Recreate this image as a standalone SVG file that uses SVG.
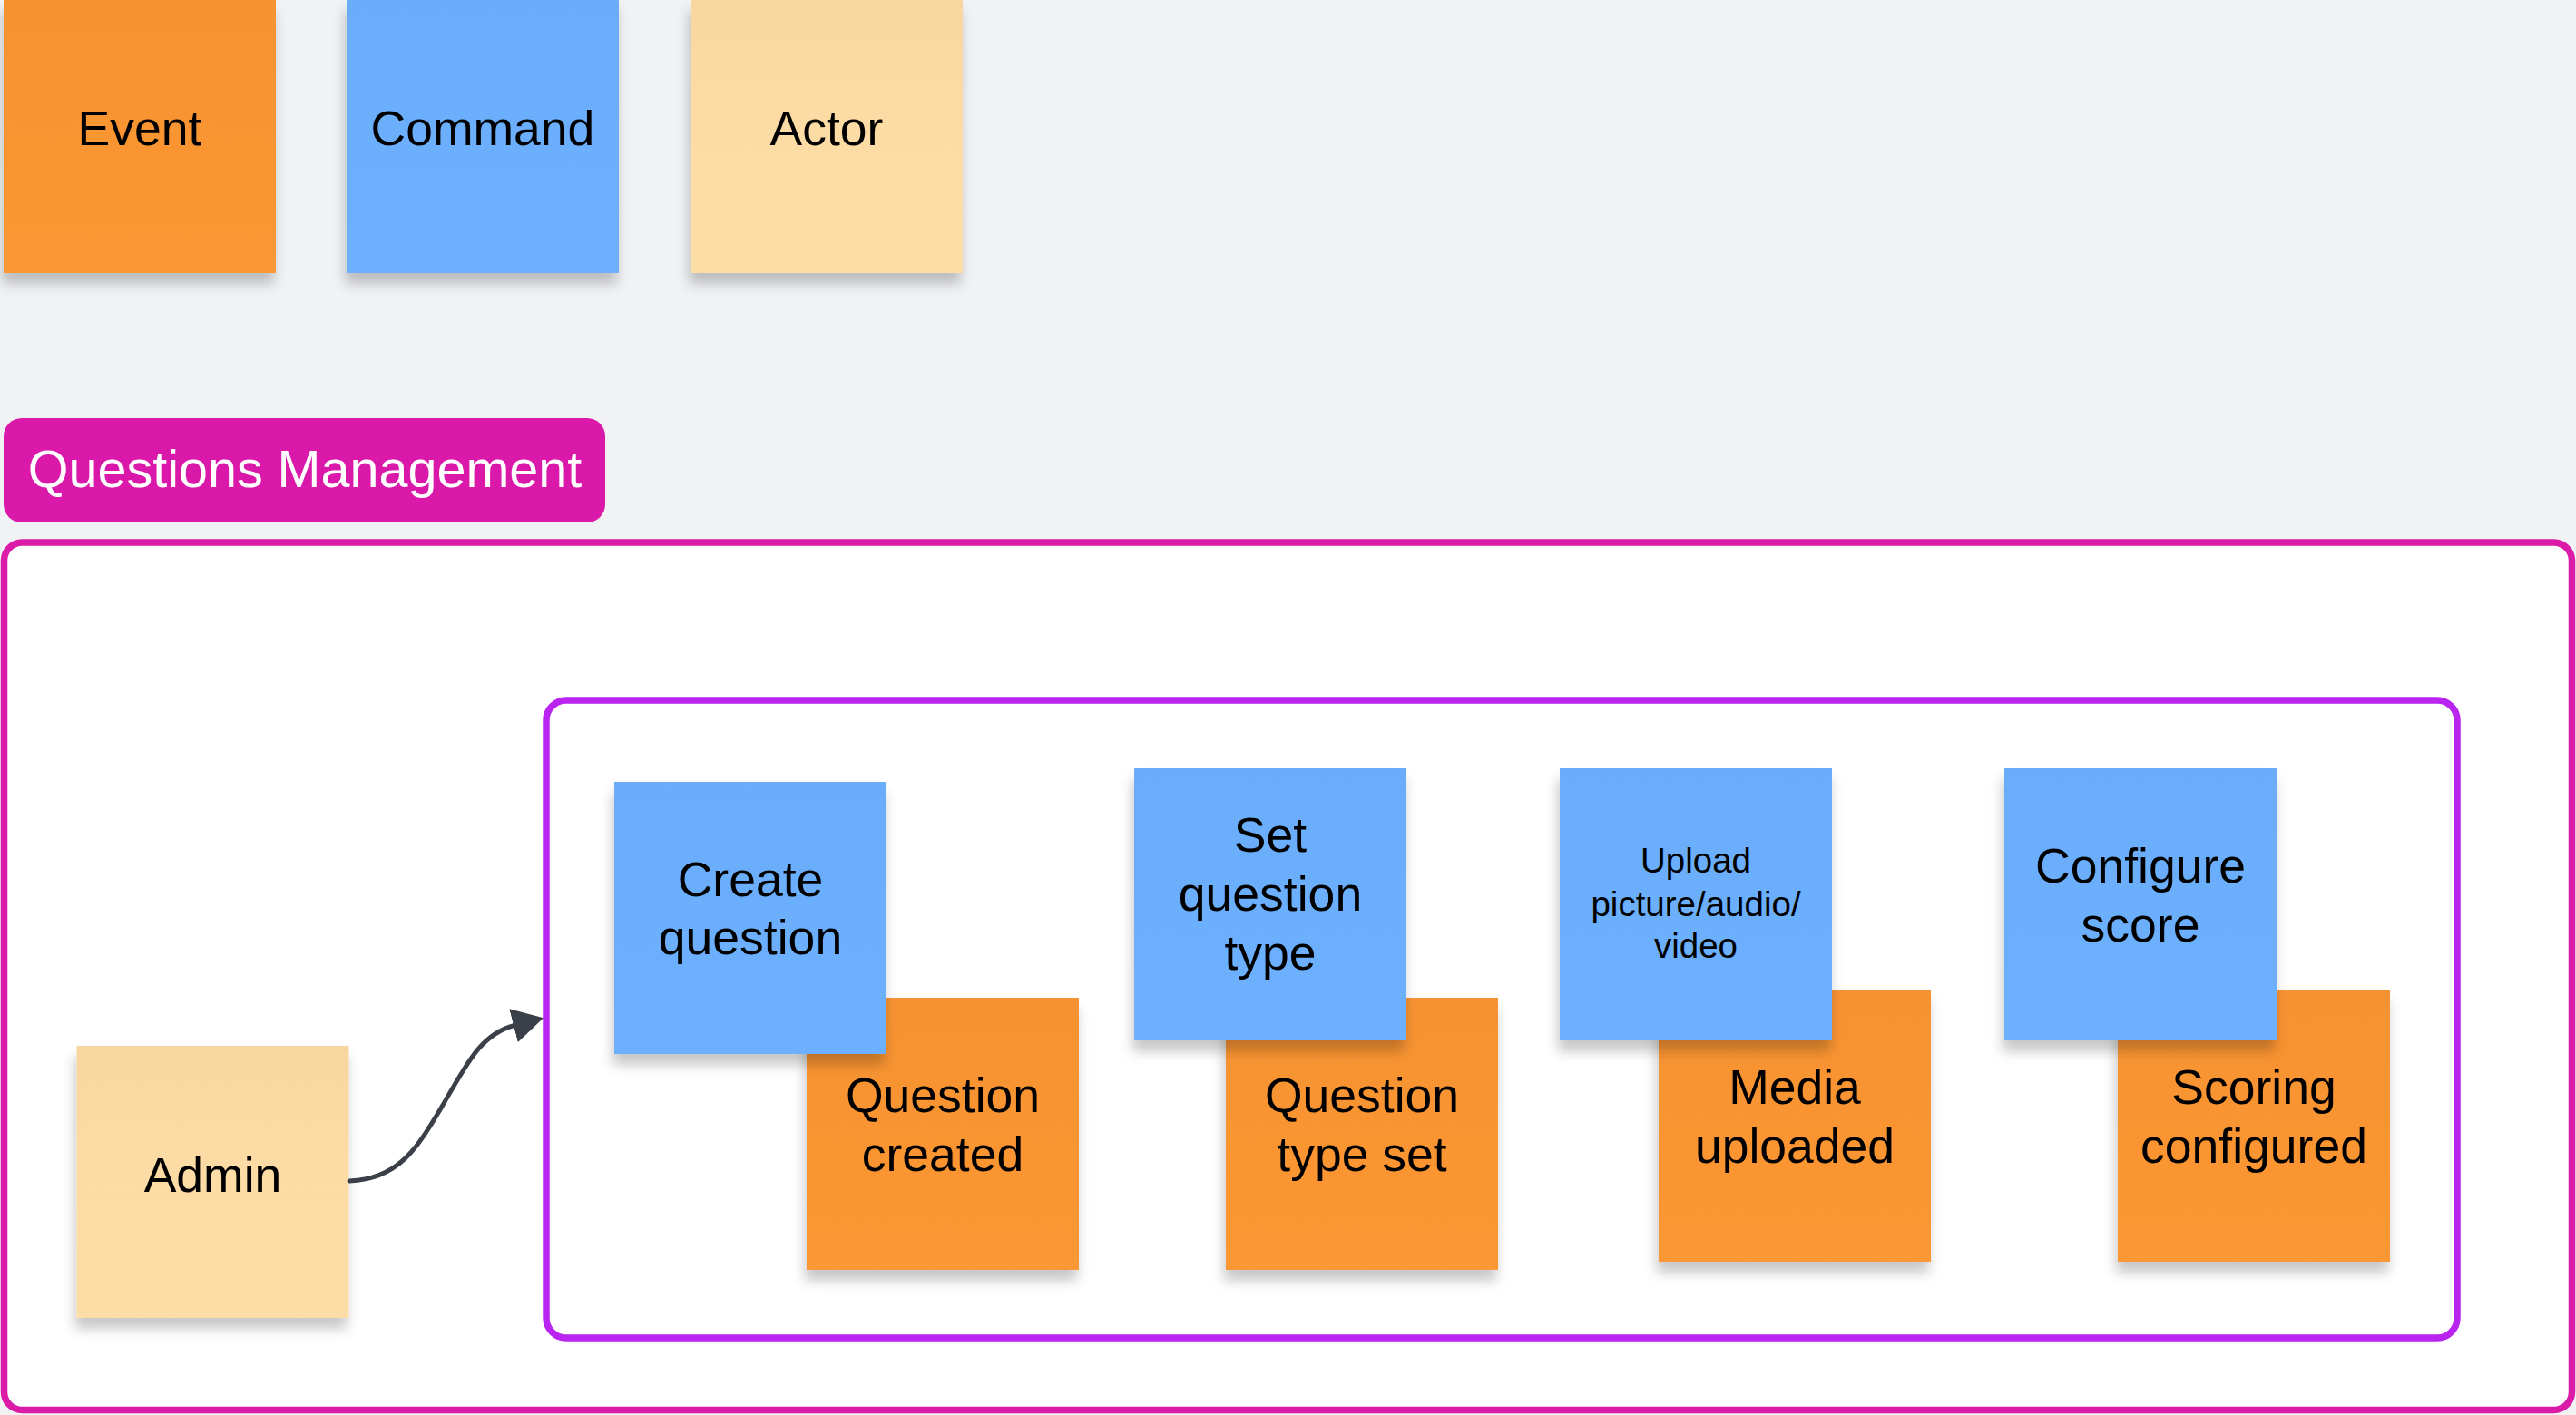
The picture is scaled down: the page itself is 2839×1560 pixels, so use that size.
<svg xmlns="http://www.w3.org/2000/svg" width="2839" height="1560" viewBox="0 0 2839 1560">
<style>
.t{font-family:"Liberation Sans",Arial,sans-serif;font-size:53.5px;fill:#000;text-anchor:middle}
.ts{font-size:38.5px}
.ev{fill:url(#gEv)}
.cm{fill:url(#gCm)}
.ac{fill:url(#gAc)}
.st{filter:url(#sh)}
</style>
<defs>
<linearGradient id="gEv" x1="0" y1="0" x2="0" y2="1"><stop offset="0" stop-color="#F79230"/><stop offset="1" stop-color="#FC9734"/></linearGradient>
<linearGradient id="gCm" x1="0" y1="0" x2="0" y2="1"><stop offset="0" stop-color="#6AADFB"/><stop offset="1" stop-color="#6DB0FD"/></linearGradient>
<linearGradient id="gAc" x1="0" y1="0" x2="0" y2="1"><stop offset="0" stop-color="#F8D6A0"/><stop offset="0.4" stop-color="#FCDBA4"/><stop offset="1" stop-color="#FDDDA6"/></linearGradient>
<filter id="sh" x="-10%" y="-10%" width="120%" height="130%">
<feDropShadow dx="-2" dy="12" stdDeviation="7" flood-color="#000" flood-opacity="0.22"/>
</filter>
<marker id="ah" markerUnits="userSpaceOnUse" viewBox="0 0 34 38" refX="1" refY="19" markerWidth="34" markerHeight="38" orient="auto">
<path d="M0 0 L34 19 L0 38 Z" fill="#3A3F48"/>
</marker>
</defs>
<rect width="2839" height="1560" fill="#F1F2F4"/>

<g id="legend-event"><rect class="ev st" x="4" y="0" width="300" height="301"/><text class="t" x="154" y="160">Event</text></g>
<g id="legend-command"><rect class="cm st" x="382" y="0" width="300" height="301"/><text class="t" x="532" y="160">Command</text></g>
<g id="legend-actor"><rect class="ac st" x="761" y="0" width="300" height="301"/><text class="t" x="911" y="160">Actor</text></g>

<g id="tag-questions-management"><rect x="4" y="461" width="663" height="115" rx="20" fill="#DA18A9"/><text class="t" x="336" y="537" style="font-size:57.5px;fill:#fff">Questions Management</text></g>

<g id="frame-outer"><rect x="4.5" y="598" width="2830" height="956.5" rx="20" fill="#fff" stroke="#DA1CA8" stroke-width="7.5"/></g>
<g id="frame-inner"><rect x="602" y="772" width="2106" height="703" rx="22" fill="#fff" stroke="#BA24F1" stroke-width="7.5"/></g>

<g id="admin"><rect class="ac st" x="84.5" y="1153" width="300" height="300"/><text class="t" x="234.5" y="1314">Admin</text></g>

<g id="question-created"><rect class="ev st" x="889" y="1100" width="300" height="300"/><text class="t" x="1039" y="1226">Question</text><text class="t" x="1039" y="1291">created</text></g>
<g id="create-question"><rect class="cm st" x="677" y="862" width="300" height="300"/><text class="t" x="827" y="988">Create</text><text class="t" x="827" y="1052">question</text></g>

<g id="question-type-set"><rect class="ev st" x="1351" y="1100" width="300" height="300"/><text class="t" x="1501" y="1226">Question</text><text class="t" x="1501" y="1291">type set</text></g>
<g id="set-question-type"><rect class="cm st" x="1250" y="847" width="300" height="300"/><text class="t" x="1400" y="939">Set</text><text class="t" x="1400" y="1004">question</text><text class="t" x="1400" y="1069">type</text></g>

<g id="media-uploaded"><rect class="ev st" x="1828" y="1091" width="300" height="300"/><text class="t" x="1978" y="1217">Media</text><text class="t" x="1978" y="1282">uploaded</text></g>
<g id="upload-media"><rect class="cm st" x="1719" y="847" width="300" height="300"/><text class="t ts" x="1869" y="962">Upload</text><text class="t ts" x="1869" y="1009.5">picture/audio/</text><text class="t ts" x="1869" y="1056">video</text></g>

<g id="scoring-configured"><rect class="ev st" x="2334" y="1091" width="300" height="300"/><text class="t" x="2484" y="1217">Scoring</text><text class="t" x="2484" y="1282">configured</text></g>
<g id="configure-score"><rect class="cm st" x="2209" y="847" width="300" height="300"/><text class="t" x="2359" y="973">Configure</text><text class="t" x="2359" y="1038">score</text></g>

<g id="connectors">
<path d="M385 1302 C440 1300 460 1265 487 1220 C515 1172 530 1140 567 1130.5" fill="none" stroke="#3A3F48" stroke-width="5" stroke-linecap="round" marker-end="url(#ah)"/>
</g>
</svg>
